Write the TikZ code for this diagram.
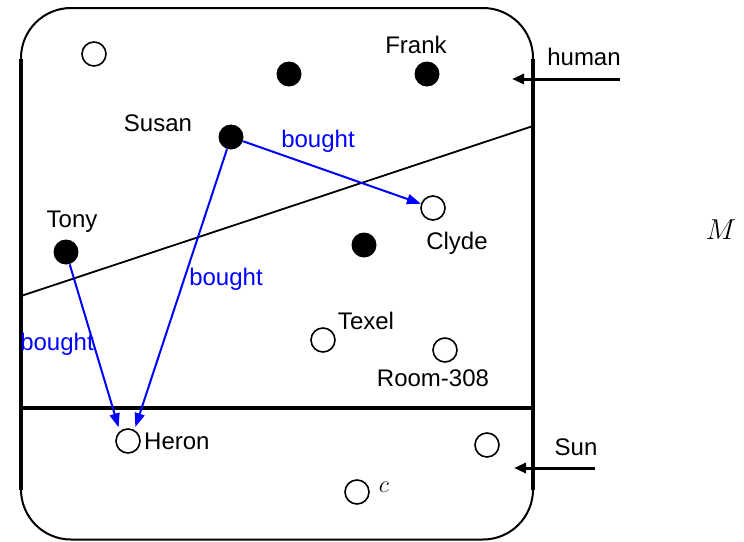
\documentclass[tikz,border=0pt]{standalone}
\usepackage{fontspec}
\setsansfont{Liberation Sans}
\usepackage{tikz}
\usepackage{xcolor}
\usetikzlibrary{arrows.meta,positioning}
\definecolor{ink}{HTML}{000000}
\definecolor{relblue}{HTML}{0000FF}
\tikzset{
  fullent/.style={circle,fill=ink,inner sep=0pt,minimum size=12.5pt},
  openent/.style={circle,draw=ink,fill=white,line width=0.8pt,
                  inner sep=0pt,minimum size=12pt},
  lbl/.style={font=\sffamily\fontsize{12}{14}\selectfont,text=ink,
              inner sep=0pt},
  buylbl/.style={lbl,text=relblue},
  buyarr/.style={-{Triangle[length=7pt,width=5pt]},line width=1pt,
                 draw=relblue},
  typearr/.style={-{Triangle[length=6pt,width=5pt]},line width=1.5pt,
                  draw=ink},
  frame/.style={draw=ink,line width=1pt,rounded corners=25pt},
  split/.style={draw=ink,line width=1.7pt},
  cut/.style={draw=ink,line width=0.9pt}
}
\begin{document}
\begin{tikzpicture}[x=0.5pt,y=-0.5pt]
    \path[use as bounding box] (0,0) rectangle (744,541);

    \draw[frame] (21,8) rectangle (533,539.5);
    \draw[split] (21,59) -- (21,490);
    \draw[split] (533,59) -- (533,490);
    \draw[split] (21,408) -- (533,408);
    \draw[cut] (21,296) -- (533,126);

    \node[openent] (anon1) at (94,54) {};
    \node[fullent] (anon2) at (289,74) {};
    \node[fullent] (frank) at (427,74) {};
    \node[fullent] (susan) at (231,137) {};
    \node[openent] (clyde) at (433,208) {};
    \node[fullent] (tony) at (66,252) {};
    \node[fullent] (anon3) at (364,245) {};
    \node[openent] (texel) at (323,340) {};
    \node[openent] (room) at (445,350) {};
    \node[openent] (heron) at (128,441) {};
    \node[openent] (anon4) at (487,445) {};
    \node[openent] (cobj) at (357,492) {};

    \node[lbl] (frankl) at (416,45) {Frank};
    \node[lbl] (susanl) at (158,123) {Susan};
    \node[lbl] (clydel) at (457,243) {Clyde};
    \node[lbl] (tonyl) at (72,222) {Tony};
    \node[lbl] (texell) at (366,321) {Texel};
    \node[lbl] (rooml) at (433,378) {Room-308};
    \node[lbl,right=1.5pt of heron] (heronl) {Heron};
    \node[lbl] (cl) at (384,487) {$c$};
    \node[lbl,font=\fontsize{15}{17}\selectfont] (ml) at (721,230) {$M$};

    \draw[buyarr] (susan) -- (clyde);
    \draw[buyarr,shorten >=1.5pt] (susan) -- (heron.60);
    \draw[buyarr,shorten >=2pt] (tony) -- (heron.130);
    \node[buylbl] (buy1) at (318,141) {bought};
    \node[buylbl] (buy2) at (226,279) {bought};
    \node[buylbl] (buy3) at (57,344) {bought};

    \coordinate (humanfrom) at (620,79);
    \coordinate (humanto) at (512,79);
    \draw[typearr] (humanfrom) -- (humanto);
    \node[lbl] (humanl) at (584,57) {human};

    \coordinate (sunfrom) at (595,468);
    \coordinate (sunto) at (514,468);
    \draw[typearr] (sunfrom) -- (sunto);
    \node[lbl] (sunl) at (576,447) {Sun};
  \end{tikzpicture}
\end{document}
